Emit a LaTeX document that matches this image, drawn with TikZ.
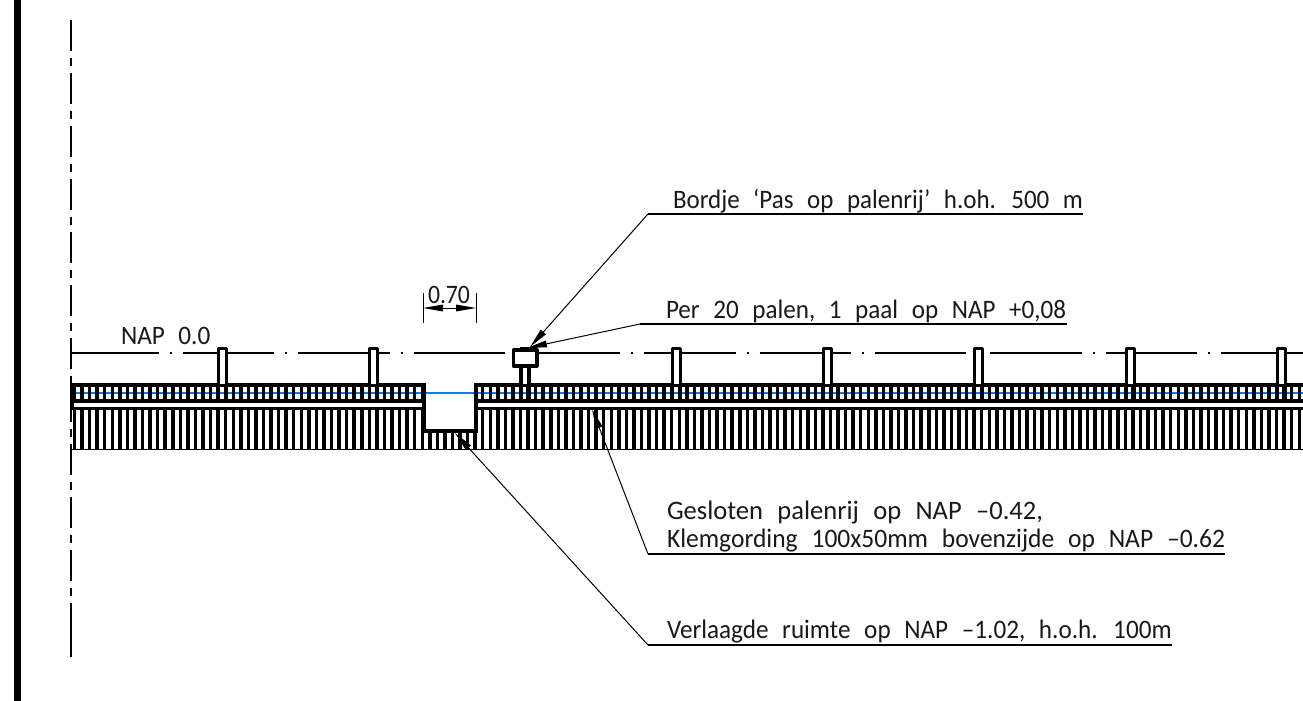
\documentclass[tikz,border=0pt]{standalone}
\usepackage{fontspec}
\usepackage{graphicx}
\setmainfont[WordSpace=2.4]{Carlito}
\usetikzlibrary{arrows.meta}
\definecolor{waterblue}{HTML}{0A7FE6}
\newcommand{\fitw}[2]{\resizebox{#1}{\height}{#2}}
\tikzset{
  x=0.75pt,y=-0.75pt,
  lbl/.style={anchor=base west,inner sep=0pt,outer sep=0pt,font=\fontsize{20}{22}\selectfont,text=black!90},
  rule/.style={line width=0.95pt,black},
  leader/.style={line width=0.75pt,black},
  head/.style={-{Triangle[length=15pt,width=5pt]}},
  cl/.style={line width=1.3pt,black},
  heavy/.style={line width=2.4pt,black},
  hatch/.style={line width=2.6pt,black},
  wood/.style={line width=2.4pt,black,line join=round,fill=white}
}
\begin{document}
\begin{tikzpicture}
\useasboundingbox (0,0) rectangle (1303,700);
\fill[white] (0,0) rectangle (1303,700);
\fill[black] (14,-2) rectangle (21,702);
% axis
\coordinate (axT) at (71,20); \coordinate (axM) at (71,603); \coordinate (axB) at (71,657);
\draw[cl,dash pattern=on 23.25pt off 5pt on 6.5pt off 5pt] (axT) -- (axM);
\draw[cl] (axM) -- (axB);
% NAP line
\coordinate (napL) at (71,353); \coordinate (napR) at (1303,353);
\draw[cl,dash pattern=on 68.5pt off 8.2pt on 1.6pt off 8.2pt,dash phase=2.5pt] (napL) -- (napR);
% water
\draw[waterblue,line width=1.6pt] (71,393) -- (1303,393);
% hatching
\begin{scope}
\clip (70,380) rectangle (1303,455);
\foreach \i in {0,...,162}{
  \pgfmathsetmacro{\xx}{74.5+7.56*\i}
  \pgfmathparse{(\xx>424 && \xx<476)?1:0}
  \ifnum\pgfmathresult=1
    \draw[hatch] (\xx,431) -- (\xx,450);
  \else
    \draw[hatch] (\xx,385) -- (\xx,402);
    \draw[hatch] (\xx,408) -- (\xx,450);
  \fi
}
\end{scope}
% bands
\draw[line width=0.8pt,black] (71,449.8) -- (1303,449.8);
\draw[heavy] (72,385) -- (424,385);
\draw[heavy] (476,385) -- (1303,385);
\draw[line width=3pt] (72,401) -- (424,401);
\draw[line width=3pt] (476,401) -- (1303,401);
\draw[heavy] (72,408.3) -- (424,408.3);
\draw[heavy] (476,408.3) -- (1303,408.3);
\draw[line width=3pt] (71.5,384) -- (71.5,410);
\draw[heavy,line cap=rect] (424,385) -- (424,431) -- (476,431) -- (476,385);
% posts
\foreach \px in {222.3,373.6,676.2,827.5,978.8,1130.1,1281.4}{
  \fill[white] (\px-3.5,349) rectangle (\px+3.5,384);
  \draw[heavy,line join=round] (\px-4,401) -- (\px-4,348.5) -- (\px+4,348.5) -- (\px+4,401);
}
% sign
\fill[white] (520.9,366) rectangle (528.9,384);
\draw[heavy] (520.9,366) -- (520.9,401);
\draw[heavy] (528.9,366) -- (528.9,401);
\draw[wood] (513.5,350) rectangle (537,366);
\fill[black] (520,346.5) rectangle (537,350);
% labels
\node[lbl] (tNap) at (121,344) {\fitw{67pt}{NAP 0.0}};
\node[lbl] (tDim) at (428,303) {\fitw{31.5pt}{0.70}};
\node[lbl] (tBord) at (673,208) {\fitw{307.5pt}{Bordje ‘Pas op palenrij’ h.oh. 500 m}};
\node[lbl] (tPer) at (666,318) {\fitw{300pt}{Per 20 palen, 1 paal op NAP +0,08}};
\node[lbl] (tGes) at (667,519) {\fitw{282pt}{Gesloten palenrij op NAP –0.42,}};
\node[lbl] (tKlem) at (667,547) {\fitw{418.5pt}{Klemgording 100x50mm bovenzijde op NAP –0.62}};
\node[lbl] (tVer) at (667,638) {\fitw{378.5pt}{Verlaagde ruimte op NAP –1.02, h.o.h. 100m}};
% leaders
\coordinate (sign) at (530,347);
\coordinate (signb) at (527,348);
\coordinate (palen) at (592,409);
\coordinate (gap) at (455,433);
\coordinate (c1) at (648,214); \coordinate (e1) at (1083,214);
\coordinate (c2) at (640,324); \coordinate (e2) at (1067,324);
\coordinate (c3) at (648,554); \coordinate (e3) at (1225,554);
\coordinate (c4) at (648,645); \coordinate (e4) at (1172,645);
\draw[rule] (c1) -- (e1);
\draw[rule] (c2) -- (e2);
\draw[rule] (c3) -- (e3);
\draw[rule] (c4) -- (e4);
\draw[leader,head] (c1) -- (sign);
\draw[leader,head] (c2) -- (signb);
\draw[leader,head] (c3) -- (palen);
\draw[leader,head] (c4) -- (gap);
% dimension
\coordinate (dL) at (423,308); \coordinate (dR) at (476,308);
\coordinate (dLt) at (423,293); \coordinate (dLb) at (423,323);
\coordinate (dRt) at (476,293); \coordinate (dRb) at (476,323);
\draw[leader] (dLt) -- (dLb);
\draw[leader] (dRt) -- (dRb);
\draw[leader,{Triangle[length=15pt,width=5pt]}-{Triangle[length=15pt,width=5pt]}] (dL) -- (dR);
\end{tikzpicture}
\end{document}
